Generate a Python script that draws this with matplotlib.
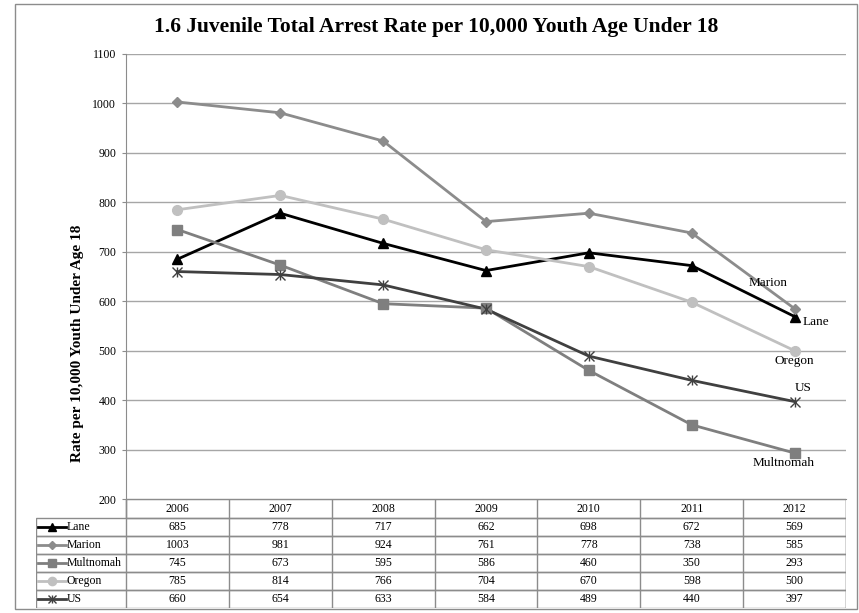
import matplotlib
matplotlib.use("Agg")
import matplotlib.pyplot as plt
from matplotlib.patches import Rectangle

plt.rcParams['font.family'] = ['Liberation Serif', 'DejaVu Serif']

years = ['2006', '2007', '2008', '2009', '2010', '2011', '2012']
series_names = ['Lane', 'Marion', 'Multnomah', 'Oregon', 'US']
lane = [685, 778, 717, 662, 698, 672, 569]
marion = [1003, 981, 924, 761, 778, 738, 585]
multnomah = [745, 673, 595, 586, 460, 350, 293]
oregon = [785, 814, 766, 704, 670, 598, 500]
us = [660, 654, 633, 584, 489, 440, 397]
values = [lane, marion, multnomah, oregon, us]
yticks = [200, 300, 400, 500, 600, 700, 800, 900, 1000, 1100]

title = '1.6 Juvenile Total Arrest Rate per 10,000 Youth Age Under 18'
ylabel = 'Rate per 10,000 Youth Under Age 18'

styles = {
    'Lane': dict(color='#000000', marker='^', ms=7),
    'Marion': dict(color='#8c8c8c', marker='D', ms=5),
    'Multnomah': dict(color='#7f7f7f', marker='s', ms=7),
    'Oregon': dict(color='#c0c0c0', marker='o', ms=7),
    'US': dict(color='#404040', marker='x', ms=7),
}
label_pos = {
    'Marion': (-26, 26),
    'Lane': (21, -5),
    'Oregon': (0, -10),
    'US': (9, 14),
    'Multnomah': (-11, -10),
}

W, H = 859, 613
fig = plt.figure(figsize=(W / 100, H / 100), dpi=100)

def px_rect(x0, y0, x1, y1):
    return [x0 / W, 1 - y1 / H, (x1 - x0) / W, (y1 - y0) / H]

fig.patches.append(Rectangle((15 / W, 1 - 609 / H), (857 - 15) / W, (609 - 4) / H,
                             transform=fig.transFigure, fill=False,
                             edgecolor='#8c8c8c', linewidth=1))

def draw_marker(axis, xs, ys, name, scale=1.0):
    st = styles[name]
    axis.plot(xs, ys, linestyle='none', marker=st['marker'], markersize=st['ms'] * scale,
              color=st['color'], markeredgecolor=st['color'],
              markeredgewidth=1 if name == 'US' else 1, zorder=4)
    if name == 'US':
        axis.plot(xs, ys, linestyle='none', marker='|', markersize=st['ms'] * scale * 1.05,
                  color=st['color'], markeredgewidth=1, zorder=4)

px0, px1 = 126, 846
ax = fig.add_axes(px_rect(px0, 54, px1, 499))
x = [i + 0.5 for i in range(len(years))]
for name, vals in zip(series_names, values):
    st = styles[name]
    ax.plot(x, vals, color=st['color'], linewidth=2, zorder=3)
    draw_marker(ax, x, vals, name)
    dx, dy = label_pos[name]
    ax.annotate(name, (x[-1], vals[-1]), xytext=(dx, dy), textcoords='offset pixels',
                ha='center', va='center', fontsize=9.5, color='#000000')

ax.set_xlim(0, len(years))
ax.set_ylim(200, 1100)
ax.set_yticks(yticks)
ax.set_yticklabels([str(t) for t in yticks], fontsize=8.5)
ax.set_xticks([])
ax.grid(axis='y', color='#a6a6a6', linewidth=1)
ax.set_axisbelow(True)
for s in ['top', 'right']:
    ax.spines[s].set_visible(False)
ax.spines['left'].set_color('#8c8c8c')
ax.spines['bottom'].set_color('#8c8c8c')
ax.tick_params(axis='y', length=3, color='#8c8c8c', pad=4)

fig.text(436 / W, 1 - 27 / H, title, ha='center', va='center', fontsize=15.5, fontweight='bold')
fig.text(78 / W, 1 - 343 / H, ylabel, ha='center', va='center', rotation=90,
         fontsize=11, fontweight='bold')

tx0 = 36
tab = fig.add_axes(px_rect(tx0, 499, px1, 608))
col_w = (px1 - px0) / len(years)
left_cols = (px0 - tx0) / col_w
tab.set_xlim(-left_cols, len(years))
hdr_h = 19
row_h = (608 - 499 - hdr_h) / len(series_names)
total_h = hdr_h + row_h * len(series_names)
tab.set_ylim(total_h, 0)
tab.axis('off')
lc = '#8c8c8c'
tfs = 8.5
tab.add_patch(Rectangle((0, 0), len(years), hdr_h, fill=False, edgecolor=lc, linewidth=1))
for i, yr in enumerate(years):
    tab.text(i + 0.5, hdr_h / 2, yr, ha='center', va='center', fontsize=tfs)
    tab.plot([i, i], [0, total_h], color=lc, linewidth=1)
tab.plot([len(years), len(years)], [0, total_h], color=lc, linewidth=1)
for r, (name, vals) in enumerate(zip(series_names, values)):
    y0 = hdr_h + r * row_h
    tab.add_patch(Rectangle((-left_cols, y0), left_cols + len(years), row_h, fill=False,
                            edgecolor=lc, linewidth=1))
    yc = y0 + row_h / 2
    st = styles[name]
    tab.plot([-left_cols + 0.02, -left_cols + 0.29], [yc, yc], color=st['color'], linewidth=2)
    draw_marker(tab, [-left_cols + 0.155], [yc], name, scale=0.85)
    tab.text(-left_cols + 0.295, yc, name, ha='left', va='center', fontsize=tfs)
    for i, v in enumerate(vals):
        tab.text(i + 0.5, yc, str(v), ha='center', va='center', fontsize=tfs)

fig.savefig('out.png', dpi=100)
